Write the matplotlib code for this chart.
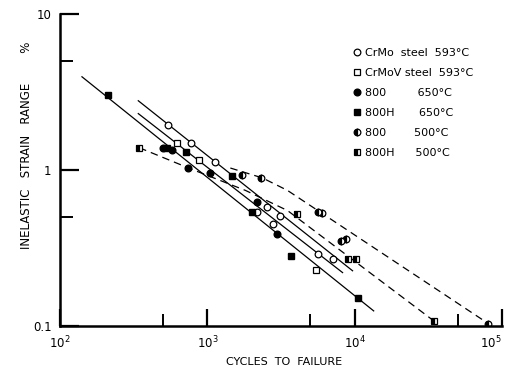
import matplotlib.pyplot as plt
from matplotlib.ticker import FixedLocator, FixedFormatter, NullFormatter

# cycles to failure (N) and inelastic strain range (%)
crmo_n = [543, 778, 1132, 2190, 2560, 2810, 3090, 5600, 7080]
crmo_e = [1.95, 1.50, 1.13, 0.54, 0.58, 0.45, 0.51, 0.29, 0.27]

crmov_n = [625, 883, 5430]
crmov_e = [1.48, 1.16, 0.23]

a800_650_n = [502, 578, 743, 1048, 2190, 2990]
a800_650_e = [1.39, 1.35, 1.03, 0.96, 0.62, 0.39]

a800h_650_n = [212, 535, 720, 1480, 2020, 3670, 10480]
a800h_650_e = [3.04, 1.39, 1.31, 0.92, 0.54, 0.28, 0.152]

a800_500_n = [1730, 2330, 5600, 5970, 8030, 8690, 80400]
a800_500_e = [0.93, 0.89, 0.54, 0.53, 0.35, 0.36, 0.103]

a800h_500_n = [345, 4030, 8950, 10160, 34400]
a800h_500_e = [1.39, 0.52, 0.27, 0.27, 0.108]

# hand drawn trend lines
line_800h_650_n = [141, 13460]
line_800h_650_e = [3.96, 0.125]
line_crmo_n = [340, 9680]
line_crmo_e = [2.78, 0.226]
line_crmov_n = [340, 8280]
line_crmov_e = [2.30, 0.22]
line_800h_500_n = [345, 766, 1815, 3500, 34400]
line_800h_500_e = [1.39, 1.02, 0.74, 0.55, 0.108]
line_800_500_n = [1433, 2365, 3500, 79100]
line_800_500_e = [1.03, 0.89, 0.74, 0.105]

fig = plt.figure(figsize=(5.1, 3.68), dpi=100)
ax = fig.add_axes([0.1176, 0.1141, 0.8667, 0.8478])
ax.set_xscale("log")
ax.set_yscale("log")
ax.set_xlim(100, 1e5)
ax.set_ylim(0.1, 10)

k = "black"
ax.plot(line_800h_650_n, line_800h_650_e, "-", color=k, lw=0.9)
ax.plot(line_crmo_n, line_crmo_e, "-", color=k, lw=0.9)
ax.plot(line_crmov_n, line_crmov_e, "-", color=k, lw=0.9)
ax.plot(line_800h_500_n, line_800h_500_e, color=k, lw=0.9, ls=(0, (6, 4)))
ax.plot(line_800_500_n, line_800_500_e, color=k, lw=0.9, ls=(0, (6, 4)))

ms = 4.8
ax.plot(crmo_n, crmo_e, "o", mfc="white", mec=k, ms=ms, mew=0.9,
        label="CrMo  steel  593°C")
ax.plot(crmov_n, crmov_e, "s", mfc="white", mec=k, ms=ms - 0.5, mew=0.9,
        label="CrMoV steel  593°C")
ax.plot(a800_650_n, a800_650_e, "o", color=k, ms=ms,
        label="800         650°C")
ax.plot(a800h_650_n, a800h_650_e, "s", color=k, ms=ms - 0.5,
        label="800H       650°C")
ax.plot(a800_500_n, a800_500_e, "o", color=k, mfc=k, mfcalt="white",
        fillstyle="left", ms=ms, mew=0.9, label="800        500°C")
ax.plot(a800h_500_n, a800h_500_e, "s", color=k, mfc=k, mfcalt="white",
        fillstyle="left", ms=ms - 0.5, mew=0.9, label="800H      500°C")

ax.legend(loc="upper left", bbox_to_anchor=(0.655, 0.905), frameon=False,
          fontsize=8, handlelength=0.6, handletextpad=0.4,
          labelspacing=0.9, borderaxespad=0)

for s in ["top", "right"]:
    ax.spines[s].set_visible(False)
for s in ["left", "bottom"]:
    ax.spines[s].set_linewidth(1.8)

ax.xaxis.set_major_locator(FixedLocator([1e2, 1e3, 1e4, 1e5]))
ax.xaxis.set_major_formatter(FixedFormatter(["$10^2$", "$10^3$", "$10^4$", "$10^5$"]))
ax.xaxis.set_minor_locator(FixedLocator([500, 5000, 50000]))
ax.xaxis.set_minor_formatter(NullFormatter())
ax.yaxis.set_major_locator(FixedLocator([0.1, 1, 10]))
ax.yaxis.set_major_formatter(FixedFormatter(["0.1", "1", "10"]))
ax.yaxis.set_minor_locator(FixedLocator([0.5, 5]))
ax.yaxis.set_minor_formatter(NullFormatter())

ax.tick_params(which="major", direction="in", length=12, width=1.6,
               labelsize=8.5, pad=6)
ax.tick_params(which="minor", direction="in", length=9, width=1.4)
ax.tick_params(axis="y", which="major", length=14)

# keep the last decade label inside the picture
fig.canvas.draw()
ax.get_xticklabels()[-1].set_horizontalalignment("right")

ax.set_xlabel("CYCLES  TO  FAILURE", fontsize=8)
ax.xaxis.set_label_coords(0.507, -0.1)
ax.set_ylabel("INELASTIC   STRAIN   RANGE        %", fontsize=8.5)
ax.yaxis.set_label_coords(-0.062, 0.58)

plt.savefig("out.png")
